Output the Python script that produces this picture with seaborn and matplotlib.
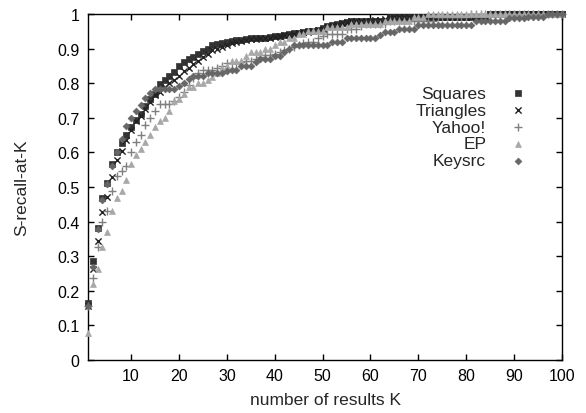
import matplotlib
matplotlib.use('Agg')
import matplotlib.pyplot as plt
import seaborn as sns

# --- Data (S-recall-at-K for K = 1..100) ---
K = list(range(1, 101))

squares = [0.165, 0.287, 0.381, 0.467, 0.513, 0.566, 0.602, 0.627, 0.650, 0.672,
           0.694, 0.710, 0.735, 0.755, 0.770, 0.798, 0.810, 0.820, 0.832, 0.850,
           0.860, 0.870, 0.875, 0.885, 0.894, 0.900, 0.910, 0.912, 0.915, 0.920,
           0.922, 0.924, 0.926, 0.928, 0.930, 0.930, 0.932, 0.932, 0.934, 0.935,
           0.936, 0.940, 0.942, 0.944, 0.946, 0.948, 0.950, 0.952, 0.955, 0.960,
           0.965, 0.968, 0.970, 0.975, 0.977, 0.980, 0.980, 0.980, 0.980, 0.980,
           0.980, 0.980, 0.980, 0.990, 0.990, 0.990, 0.990, 0.990, 0.990, 0.990,
           0.990, 0.990, 0.990, 0.990, 0.990, 0.990, 0.990, 0.990, 0.990, 0.990,
           0.990, 0.990, 0.990, 0.990, 1.000, 1.000, 1.000, 1.000, 1.000, 1.000,
           1.000, 1.000, 1.000, 1.000, 1.000, 1.000, 1.000, 1.000, 1.000, 1.000]

triangles = [0.155, 0.262, 0.343, 0.428, 0.472, 0.528, 0.578, 0.605, 0.637, 0.665,
             0.690, 0.705, 0.725, 0.745, 0.765, 0.775, 0.790, 0.800, 0.810, 0.822,
             0.835, 0.845, 0.855, 0.865, 0.875, 0.885, 0.895, 0.900, 0.905, 0.910,
             0.915, 0.918, 0.922, 0.925, 0.928, 0.929, 0.930, 0.931, 0.932, 0.934,
             0.935, 0.938, 0.940, 0.943, 0.945, 0.947, 0.949, 0.951, 0.954, 0.958,
             0.963, 0.966, 0.969, 0.973, 0.976, 0.979, 0.980, 0.980, 0.980, 0.980,
             0.982, 0.982, 0.985, 0.988, 0.990, 0.990, 0.990, 0.990, 0.990, 0.990,
             0.990, 0.990, 0.990, 0.990, 0.990, 0.990, 0.990, 0.990, 0.990, 0.990,
             0.990, 0.990, 0.990, 0.990, 1.000, 1.000, 1.000, 1.000, 1.000, 1.000,
             1.000, 1.000, 1.000, 1.000, 1.000, 1.000, 1.000, 1.000, 1.000, 1.000]

yahoo = [0.155, 0.238, 0.327, 0.398, 0.430, 0.489, 0.531, 0.547, 0.560, 0.600,
         0.629, 0.650, 0.680, 0.700, 0.720, 0.740, 0.740, 0.740, 0.750, 0.760,
         0.776, 0.795, 0.814, 0.829, 0.839, 0.839, 0.839, 0.845, 0.849, 0.858,
         0.858, 0.858, 0.860, 0.865, 0.865, 0.870, 0.875, 0.881, 0.881, 0.885,
         0.890, 0.895, 0.900, 0.905, 0.910, 0.915, 0.918, 0.920, 0.930, 0.935,
         0.942, 0.942, 0.942, 0.942, 0.957, 0.957, 0.957, 0.965, 0.971, 0.971,
         0.971, 0.971, 0.971, 0.980, 0.980, 0.980, 0.980, 0.980, 0.980, 0.980,
         0.980, 0.980, 0.980, 0.990, 0.990, 0.990, 0.990, 0.990, 0.990, 0.990,
         1.000, 1.000, 1.000, 1.000, 1.000, 1.000, 1.000, 1.000, 1.000, 1.000,
         1.000, 1.000, 1.000, 1.000, 1.000, 1.000, 1.000, 1.000, 1.000, 1.000]

ep = [0.077, 0.220, 0.262, 0.327, 0.371, 0.430, 0.468, 0.489, 0.520, 0.566,
      0.592, 0.610, 0.630, 0.650, 0.672, 0.692, 0.700, 0.720, 0.750, 0.755,
      0.770, 0.790, 0.790, 0.800, 0.800, 0.810, 0.817, 0.830, 0.844, 0.850,
      0.864, 0.864, 0.864, 0.880, 0.891, 0.891, 0.891, 0.900, 0.900, 0.910,
      0.920, 0.920, 0.930, 0.930, 0.942, 0.942, 0.952, 0.952, 0.952, 0.952,
      0.962, 0.962, 0.962, 0.962, 0.962, 0.970, 0.970, 0.970, 0.970, 0.970,
      0.970, 0.970, 0.981, 0.981, 0.981, 0.981, 0.981, 0.981, 0.990, 0.990,
      0.990, 1.000, 1.000, 1.000, 1.000, 1.000, 1.000, 1.000, 1.000, 1.000,
      1.000, 1.000, 1.000, 1.000, 1.000, 1.000, 1.000, 1.000, 1.000, 1.000,
      1.000, 1.000, 1.000, 1.000, 1.000, 1.000, 1.000, 1.000, 1.000, 1.000]

keysrc = [0.155, 0.268, 0.378, 0.462, 0.510, 0.560, 0.600, 0.640, 0.675, 0.699,
          0.720, 0.737, 0.758, 0.771, 0.783, 0.783, 0.783, 0.783, 0.783, 0.791,
          0.800, 0.812, 0.820, 0.820, 0.820, 0.829, 0.829, 0.829, 0.829, 0.835,
          0.839, 0.839, 0.851, 0.851, 0.851, 0.860, 0.870, 0.870, 0.870, 0.880,
          0.880, 0.890, 0.900, 0.910, 0.910, 0.910, 0.910, 0.910, 0.910, 0.910,
          0.910, 0.920, 0.920, 0.920, 0.930, 0.930, 0.930, 0.930, 0.930, 0.930,
          0.930, 0.939, 0.949, 0.949, 0.949, 0.958, 0.958, 0.958, 0.958, 0.968,
          0.968, 0.968, 0.968, 0.968, 0.968, 0.968, 0.968, 0.968, 0.968, 0.968,
          0.968, 0.980, 0.980, 0.980, 0.980, 0.980, 0.980, 0.980, 0.988, 0.988,
          0.988, 0.988, 0.990, 0.990, 0.990, 0.990, 1.000, 1.000, 1.000, 1.000]

y_ticks = [0, 0.1, 0.2, 0.3, 0.4, 0.5, 0.6, 0.7, 0.8, 0.9, 1]
y_tick_labels = ['0', '0.1', '0.2', '0.3', '0.4', '0.5', '0.6', '0.7', '0.8', '0.9', '1']
x_ticks = [10, 20, 30, 40, 50, 60, 70, 80, 90, 100]

# --- Style ---
sns.set_style('ticks')
plt.rcParams['font.family'] = ['Liberation Sans', 'DejaVu Sans']
plt.rcParams['font.size'] = 12

fig = plt.figure(figsize=(5.86, 4.14), dpi=100)
ax = fig.add_axes([88 / 586, 1 - 361 / 414, (562 - 88) / 586, (361 - 15) / 414])

# name, values, marker, colour, size, line width
series = [
    ('Squares', squares, 's', '#333333', 24, 0.5),
    ('Triangles', triangles, 'x', '#222222', 20, 1.0),
    ('Yahoo!', yahoo, '+', '#808080', 30, 1.0),
    ('EP', ep, '^', '#a8a8a8', 18, 0.5),
    ('Keysrc', keysrc, 'D', '#666666', 12, 0.5),
]

for name, vals, marker, color, size, lw in series:
    sns.scatterplot(x=K, y=vals, marker=marker, color=color, s=size,
                    linewidth=lw, edgecolor=color, label=name, ax=ax,
                    clip_on=False, zorder=3)

ax.set_xlim(1, 100)
ax.set_ylim(0, 1)
ax.set_xticks(x_ticks)
ax.set_yticks(y_ticks)
ax.set_yticklabels(y_tick_labels)
ax.tick_params(direction='in', length=4, width=1, top=True, right=True,
               labelsize=11.5, pad=6, colors='black')
for sp in ax.spines.values():
    sp.set_linewidth(1)
    sp.set_color('black')

ax.set_xlabel('number of results K', fontsize=12.5, labelpad=6)
ax.set_ylabel('S-recall-at-K', fontsize=12.5, labelpad=20)

ax.legend(loc='upper right', bbox_to_anchor=(0.944, 0.793), frameon=False,
          markerfirst=False, handletextpad=0.84, labelspacing=0.1,
          borderaxespad=0, borderpad=0, fontsize=12.5, handlelength=2)

fig.savefig('out.png', dpi=100)
